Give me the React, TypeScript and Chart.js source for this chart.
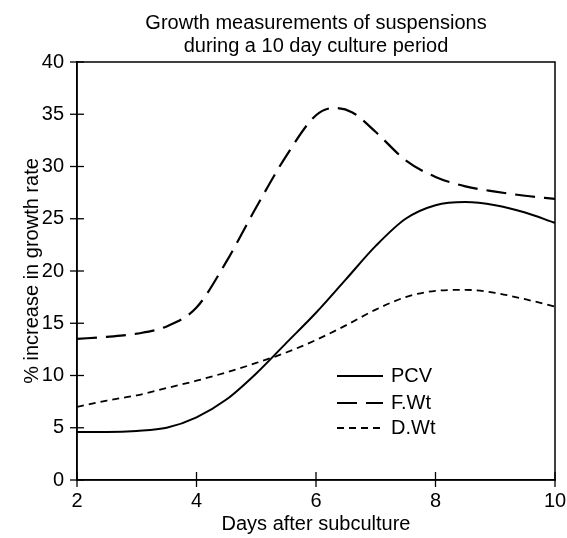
import React, { useEffect, useRef } from "react";
import { Chart, registerables } from "chart.js";

Chart.register(...registerables);

const TITLE_LINES = ["Growth measurements of suspensions", "during a 10 day culture period"];
const X_TITLE = "Days after subculture";
const Y_TITLE = "% increase in growth rate";

const PCV_DAYS = [2, 2.5, 3, 3.5, 4, 4.5, 5, 5.5, 6, 6.5, 7, 7.5, 8, 8.5, 9, 9.5, 10];
const PCV = [4.6, 4.6, 4.7, 5.0, 6.0, 7.7, 10.2, 13.1, 16.0, 19.2, 22.4, 25.0, 26.3, 26.6, 26.3, 25.6, 24.6];

const FWT_DAYS = [2, 2.5, 3, 3.5, 4, 4.5, 5, 5.5, 6, 6.3, 6.6, 7, 7.5, 8, 8.5, 9, 9.5, 10];
const FWT = [13.5, 13.7, 14.0, 14.7, 16.5, 20.9, 26.1, 31.0, 34.9, 35.6, 35.2, 33.3, 30.6, 29.0, 28.1, 27.6, 27.2, 26.9];

const DWT_DAYS = [2, 2.5, 3, 3.5, 4, 4.5, 5, 5.5, 6, 6.5, 7, 7.5, 8, 8.5, 9, 9.5, 10];
const DWT = [7.0, 7.6, 8.1, 8.8, 9.5, 10.3, 11.2, 12.2, 13.4, 14.8, 16.3, 17.5, 18.1, 18.2, 17.9, 17.3, 16.6];

const SERIES_LABELS = ["PCV", "F.Wt", "D.Wt"];
const X_MIN = 2, X_MAX = 10, X_STEP = 2;
const Y_MIN = 0, Y_MAX = 40, Y_STEP = 5;

const FONT = '"Liberation Sans", Arial, Helvetica, sans-serif';

const toPts = (xs: number[], ys: number[]) => xs.map((x, i) => ({ x, y: ys[i] }));

const framePlugin = {
  id: "frameAndTicks",
  afterDraw(chart: any) {
    const { ctx, chartArea, scales } = chart;
    const { left, right, top, bottom } = chartArea;
    ctx.save();
    ctx.strokeStyle = "#000";
    ctx.lineWidth = 1.5;
    ctx.strokeRect(left, top, right - left, bottom - top);
    ctx.lineWidth = 1.3;
    for (let v = Y_MIN; v <= Y_MAX; v += Y_STEP) {
      const y = scales.y.getPixelForValue(v);
      ctx.beginPath();
      ctx.moveTo(left - 7, y);
      ctx.lineTo(left + 7, y);
      ctx.stroke();
    }
    for (let v = X_MIN; v <= X_MAX; v += X_STEP) {
      const x = scales.x.getPixelForValue(v);
      ctx.beginPath();
      ctx.moveTo(x, bottom + 7);
      ctx.lineTo(x, bottom - 8);
      ctx.stroke();
    }
    // title
    ctx.fillStyle = "#000";
    ctx.font = `20px ${FONT}`;
    ctx.textAlign = "center";
    ctx.textBaseline = "alphabetic";
    const cx = (left + right) / 2;
    TITLE_LINES.forEach((t, i) => ctx.fillText(t, cx, top - 33 + i * 23));
    // legend
    const lx0 = left + 260;
    const lx1 = left + 306;
    const rows = [top + 314, top + 341, top + 366];
    chart.data.datasets.forEach((ds: any, i: number) => {
      const y = rows[i];
      ctx.beginPath();
      ctx.setLineDash(ds.borderDash || []);
      ctx.lineWidth = ds.borderWidth;
      ctx.moveTo(lx0, y);
      ctx.lineTo(lx1, y);
      ctx.stroke();
      ctx.setLineDash([]);
      ctx.textAlign = "left";
      ctx.textBaseline = "middle";
      ctx.fillText(ds.label, lx1 + 8, y);
    });
    ctx.restore();
  },
};

export default function App() {
  const ref = useRef<HTMLCanvasElement | null>(null);
  useEffect(() => {
    if (!ref.current) return;
    Chart.defaults.color = "#000";
    Chart.defaults.font.family = FONT;
    Chart.defaults.font.size = 20;
    const chart = new Chart(ref.current, {
      type: "line",
      data: {
        datasets: [
          {
            label: SERIES_LABELS[0],
            data: toPts(PCV_DAYS, PCV),
            borderColor: "#000",
            borderWidth: 2,
            pointRadius: 0,
            cubicInterpolationMode: "monotone",
          },
          {
            label: SERIES_LABELS[1],
            data: toPts(FWT_DAYS, FWT),
            borderColor: "#000",
            borderWidth: 2.2,
            borderDash: [20, 9],
            pointRadius: 0,
            cubicInterpolationMode: "monotone",
          },
          {
            label: SERIES_LABELS[2],
            data: toPts(DWT_DAYS, DWT),
            borderColor: "#000",
            borderWidth: 1.8,
            borderDash: [7, 5],
            pointRadius: 0,
            cubicInterpolationMode: "monotone",
          },
        ],
      },
      options: {
        animation: false,
        responsive: false,
        maintainAspectRatio: false,
        layout: { padding: { top: 54, right: 12, bottom: 0, left: 0 } },
        plugins: { legend: { display: false }, title: { display: false }, tooltip: { enabled: false } },
        scales: {
          x: {
            type: "linear",
            min: X_MIN,
            max: X_MAX,
            ticks: { stepSize: X_STEP, padding: 9, color: "#000", font: { size: 20 } },
            grid: { drawOnChartArea: false, drawTicks: false },
            border: { display: true, color: "#000", width: 1.5 },
            title: { display: true, text: X_TITLE, color: "#000", font: { size: 20 }, padding: { top: 0, bottom: 2 } },
            afterFit: (s: any) => { s.height = 58; s.paddingLeft = 0; s.paddingRight = 0; },
          },
          y: {
            min: Y_MIN,
            max: Y_MAX,
            ticks: { stepSize: Y_STEP, padding: 13, color: "#000", font: { size: 20 } },
            grid: { drawOnChartArea: false, drawTicks: false },
            border: { display: true, color: "#000", width: 1.5 },
            title: { display: true, text: Y_TITLE, color: "#000", font: { size: 20 }, padding: { top: 12, bottom: 0 } },
            afterFit: (s: any) => { s.width = 69; },
          },
        },
      },
      plugins: [framePlugin],
    } as any);
    return () => chart.destroy();
  }, []);
  return (
    <div style={{ position: "absolute", left: 8, top: 8, width: 559, height: 530 }}>
      <canvas ref={ref} width={559} height={530} style={{ display: "block" }} />
    </div>
  );
}
